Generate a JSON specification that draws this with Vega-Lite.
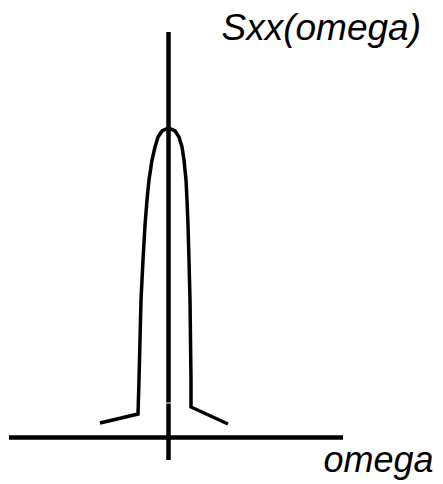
{
  "$schema": "https://vega.github.io/schema/vega-lite/v6.json",
  "width": 443,
  "height": 484,
  "autosize": {"type": "fit", "contains": "padding"},
  "padding": 0,
  "background": "white",
  "config": {"view": {"stroke": null}},
  "datasets": {
    "curve": [
      {"i": 0, "omega": -6.85, "S": 1.45},
      {"i": 1, "omega": -3.05, "S": 2.35},
      {"i": 2, "omega": -2.95, "S": 5.75},
      {"i": 3, "omega": -2.85, "S": 9.75},
      {"i": 4, "omega": -2.75, "S": 13.75},
      {"i": 5, "omega": -2.55, "S": 17.75},
      {"i": 6, "omega": -2.35, "S": 21.25},
      {"i": 7, "omega": -2.15, "S": 23.75},
      {"i": 8, "omega": -1.95, "S": 25.75},
      {"i": 9, "omega": -1.65, "S": 27.75},
      {"i": 10, "omega": -1.35, "S": 29.05},
      {"i": 11, "omega": -1.05, "S": 30.05},
      {"i": 12, "omega": -0.65, "S": 30.65},
      {"i": 13, "omega": 0, "S": 30.95},
      {"i": 14, "omega": 0.65, "S": 30.65},
      {"i": 15, "omega": 1.05, "S": 30.05},
      {"i": 16, "omega": 1.35, "S": 29.05},
      {"i": 17, "omega": 1.55, "S": 27.75},
      {"i": 18, "omega": 1.75, "S": 25.75},
      {"i": 19, "omega": 1.85, "S": 23.75},
      {"i": 20, "omega": 1.95, "S": 21.25},
      {"i": 21, "omega": 2.05, "S": 17.75},
      {"i": 22, "omega": 2.15, "S": 13.75},
      {"i": 23, "omega": 2.2, "S": 9.75},
      {"i": 24, "omega": 2.25, "S": 5.75},
      {"i": 25, "omega": 2.25, "S": 3.05},
      {"i": 26, "omega": 5.95, "S": 1.35}
    ],
    "axes": [
      {"name": "h", "x1": -15.95, "x2": 17.45, "y1": 0, "y2": 0},
      {"name": "v", "x1": 0, "x2": 0, "y1": 40.55, "y2": -2.25}
    ],
    "gap": [
      {"x1": -0.35, "x2": 0.35, "y1": 3.45, "y2": 3.45}
    ],
    "labels": [
      {"omega": 25.25, "S": 39.75, "text": "Sxx(omega)", "size": 37},
      {"omega": 26.5, "S": -3.45, "text": "omega", "size": 36}
    ]
  },
  "layer": [
    {
      "data": {"name": "axes"},
      "mark": {"type": "rule", "strokeWidth": 4.5, "color": "black", "strokeCap": "butt"},
      "encoding": {
        "x": {"field": "x1", "type": "quantitative", "scale": {"domain": [-16.85, 27.45], "nice": false, "zero": false}, "axis": null},
        "x2": {"field": "x2"},
        "y": {"field": "y1", "type": "quantitative", "scale": {"domain": [-4.65, 43.75], "nice": false, "zero": false}, "axis": null},
        "y2": {"field": "y2"}
      }
    },
    {
      "data": {"name": "gap"},
      "mark": {"type": "rule", "strokeWidth": 1, "color": "white"},
      "encoding": {
        "x": {"field": "x1", "type": "quantitative", "axis": null},
        "x2": {"field": "x2"},
        "y": {"field": "y1", "type": "quantitative", "axis": null},
        "y2": {"field": "y2"}
      }
    },
    {
      "data": {"name": "curve"},
      "mark": {"type": "line", "strokeWidth": 3.5, "color": "black", "strokeJoin": "miter", "strokeCap": "butt"},
      "encoding": {
        "x": {"field": "omega", "type": "quantitative", "axis": null},
        "y": {"field": "S", "type": "quantitative", "axis": null},
        "order": {"field": "i", "type": "quantitative"}
      }
    },
    {
      "data": {"name": "labels"},
      "mark": {"type": "text", "align": "right", "baseline": "alphabetic", "font": "Liberation Sans", "fontStyle": "italic", "color": "black"},
      "encoding": {
        "x": {"field": "omega", "type": "quantitative", "axis": null},
        "y": {"field": "S", "type": "quantitative", "axis": null},
        "text": {"field": "text"},
        "size": {"field": "size", "type": "quantitative", "scale": null, "legend": null}
      }
    }
  ]
}
